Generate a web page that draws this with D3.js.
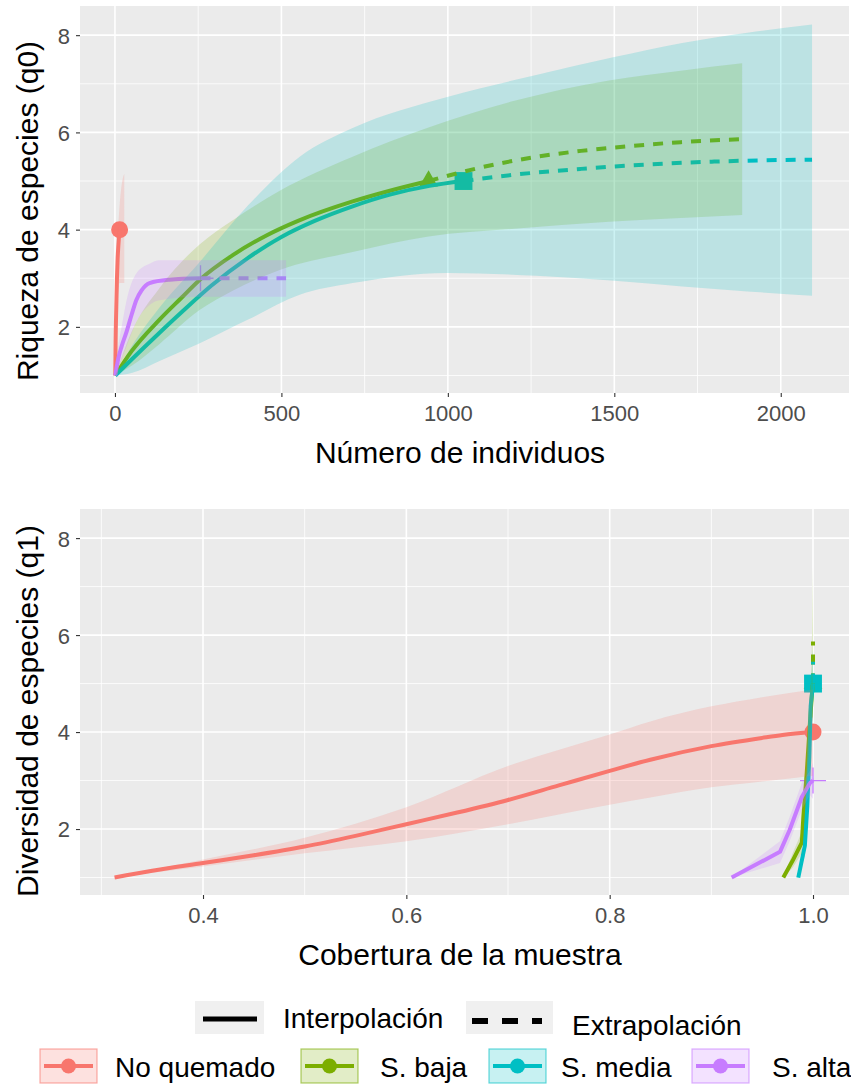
<!DOCTYPE html>
<html>
<head>
<meta charset="utf-8">
<script src="https://cdn.jsdelivr.net/npm/d3@7.9.0/dist/d3.min.js"></script>
<style>
  body { margin: 0; background: #fff; }
  svg { display: block; font-family: "Liberation Sans", Arial, sans-serif; }
</style>
</head>
<body>
<svg id="chart" width="851" height="1088"></svg>
<script>
// ---- data ----
const groups = ['No quemado', 'S. baja', 'S. media', 'S. alta'];
const colors = ['#F8766D', '#7CAE00', '#00BFC4', '#C77CFF'];
const shapes = ['circle', 'triangle', 'square', 'plus'];

const sizeTicks = [0, 500, 1000, 1500, 2000];
const sizeMinor = [250, 750, 1250, 1750];
const coverageTicks = [0.4, 0.6, 0.8, 1.0];
const coverageMinor = [0.3, 0.5, 0.7, 0.9];
const yTicks = [2, 4, 6, 8];
const yMinor = [1, 3, 5, 7];

// q0 by number of individuals: interpolation
const q0InterpM = [
  [1, 2, 4, 6, 8, 10, 12, 14],
  [1, 50, 134, 200, 255, 355, 455, 550, 714, 826, 942],
  [1, 50, 134, 200, 290, 400, 500, 600, 714, 826, 945, 1047],
  [1, 10, 20, 34, 50, 64, 80, 104, 164, 257]
];
const q0InterpD = [
  [1, 1.7, 2.4, 3.0, 3.4, 3.65, 3.85, 4.0],
  [1, 1.5, 2.15, 2.6, 2.97, 3.48, 3.88, 4.18, 4.58, 4.8, 5.0],
  [1, 1.33, 1.88, 2.3, 2.85, 3.42, 3.85, 4.18, 4.48, 4.72, 4.9, 5.0],
  [1, 1.35, 1.6, 1.88, 2.25, 2.55, 2.75, 2.9, 2.97, 3.0]
];
// q0 extrapolation
const q0ExtM = [
  [14, 18, 22, 28],
  [942, 1100, 1250, 1400, 1550, 1700, 1884],
  [1047, 1200, 1400, 1600, 1800, 2094],
  [257, 514]
];
const q0ExtD = [
  [4.0, 4.05, 4.08, 4.1],
  [5.0, 5.28, 5.48, 5.62, 5.72, 5.8, 5.86],
  [5.0, 5.13, 5.25, 5.34, 5.4, 5.44],
  [3.0, 3.0]
];
// q0 confidence bands
const q0BandM = [
  [1, 4, 8, 14, 18, 22, 28],
  [1, 50, 134, 255, 355, 495, 714, 942, 1200, 1484, 1700, 1884],
  [1, 50, 134, 250, 400, 555, 714, 998, 1265, 1500, 1704, 1900, 2094],
  [1, 10, 20, 35, 64, 104, 134, 257, 514]
];
const q0BandLo = [
  [1, 1.8, 2.5, 2.9, 2.9, 2.9, 2.9],
  [1, 1.2, 1.65, 2.35, 2.75, 3.17, 3.54, 3.86, 4.02, 4.16, 4.24, 4.3],
  [1, 1.05, 1.3, 1.65, 2.15, 2.66, 2.9, 3.11, 3.05, 2.95, 2.83, 2.73, 2.64],
  [1, 1.15, 1.35, 1.6, 2.1, 2.45, 2.55, 2.62, 2.62]
];
const q0BandHi = [
  [1, 2.6, 3.7, 4.5, 4.8, 5.0, 5.15],
  [1, 1.9, 2.8, 3.7, 4.2, 4.8, 5.5, 6.1, 6.65, 7.07, 7.27, 7.42],
  [1, 1.6, 2.4, 3.3, 4.5, 5.5, 6.09, 6.73, 7.18, 7.55, 7.84, 8.05, 8.22],
  [1, 1.6, 2.0, 2.55, 3.1, 3.3, 3.37, 3.37, 3.37]
];

// q1 by sample coverage: interpolation
const q1InterpC = [
  [0.313, 0.35, 0.4, 0.45, 0.5, 0.55, 0.6, 0.65, 0.7, 0.75, 0.8, 0.84, 0.9, 0.95, 0.97, 1.0],
  [0.9708, 0.98, 0.989, 0.9905, 0.9938, 0.997, 0.9992, 1.0],
  [0.9855, 0.992, 0.9944, 0.9964, 0.9977, 1.0],
  [0.92, 0.9675, 0.977, 0.989, 0.997, 1.0]
];
const q1InterpD = [
  [1.0, 1.14, 1.3, 1.46, 1.64, 1.86, 2.1, 2.34, 2.6, 2.9, 3.2, 3.43, 3.71, 3.88, 3.94, 4.0],
  [1, 1.35, 1.72, 2.25, 3.16, 4.2, 4.85, 5.0],
  [1, 1.66, 2.48, 3.5, 4.54, 5.0],
  [1.0, 1.53, 1.98, 2.66, 2.95, 3.0]
];
// q1 extrapolation
const q1ExtC = [
  [1.0, 1.0],
  [1.0, 1.0],
  [1.0, 1.0],
  [1.0, 1.0]
];
const q1ExtD = [
  [4.0, 4.0],
  [5.0, 5.87],
  [5.0, 5.45],
  [3.0, 3.0]
];
// q1 confidence bands
const q1BandC = [
  [0.313, 0.4, 0.5, 0.6, 0.7, 0.8, 0.84, 0.9, 0.95, 1.0],
  [0.9708, 0.98, 0.989, 0.9905, 0.9938, 0.997, 0.9985, 0.9993, 1.0],
  [0.9855, 0.992, 0.9944, 0.9964, 0.9977, 0.9995, 1.0],
  [0.92, 0.9675, 0.977, 0.989, 0.997, 1.0]
];
const q1BandLo = [
  [1.0, 1.23, 1.5, 1.75, 2.1, 2.5, 2.65, 2.86, 2.98, 3.1],
  [1, 1.2, 1.5, 1.95, 2.8, 3.9, 4.3, 4.3, 4.3],
  [1, 1.45, 2.2, 3.2, 4.2, 4.6, 4.6],
  [1, 1.3, 1.75, 2.4, 2.7, 2.62]
];
const q1BandHi = [
  [1.0, 1.37, 1.82, 2.45, 3.3, 3.95, 4.22, 4.53, 4.72, 4.88],
  [1, 1.5, 1.95, 2.55, 3.5, 4.6, 5.4, 6.4, 7.42],
  [1, 1.85, 2.75, 3.8, 4.85, 5.6, 5.7],
  [1, 1.75, 2.25, 2.95, 3.2, 3.37]
];

// ---- drawing ----
const svg = d3.select('#chart');
const tickColor = '#4D4D4D';

function zip(xs, ys) {
  return xs.map((x, i) => [x, ys[i]]);
}

function drawPanel(opt) {
  const x = d3.scaleLinear().domain(opt.xDomain).range([80, 849]);
  const y = d3.scaleLinear().domain([0.64, 8.6]).range([opt.bottom, opt.top]);
  const g = svg.append('g');

  g.append('rect')
    .attr('x', 80).attr('y', opt.top)
    .attr('width', 769).attr('height', opt.bottom - opt.top)
    .attr('fill', '#EBEBEB');

  // grid
  opt.xMinor.forEach((v) => {
    g.append('line').attr('x1', x(v)).attr('x2', x(v))
      .attr('y1', opt.top).attr('y2', opt.bottom)
      .attr('stroke', '#fff').attr('stroke-width', 0.8);
  });
  yMinor.forEach((v) => {
    g.append('line').attr('x1', 80).attr('x2', 849)
      .attr('y1', y(v)).attr('y2', y(v))
      .attr('stroke', '#fff').attr('stroke-width', 0.8);
  });
  opt.xTicks.forEach((v) => {
    g.append('line').attr('x1', x(v)).attr('x2', x(v))
      .attr('y1', opt.top).attr('y2', opt.bottom)
      .attr('stroke', '#fff').attr('stroke-width', 1.6);
  });
  yTicks.forEach((v) => {
    g.append('line').attr('x1', 80).attr('x2', 849)
      .attr('y1', y(v)).attr('y2', y(v))
      .attr('stroke', '#fff').attr('stroke-width', 1.6);
  });

  const clip = 'clip' + opt.id;
  svg.append('clipPath').attr('id', clip).append('rect')
    .attr('x', 80).attr('y', opt.top)
    .attr('width', 769).attr('height', opt.bottom - opt.top);
  const plot = g.append('g').attr('clip-path', `url(#${clip})`);

  const lineFor = (i) => d3.line().x((d) => x(d[0])).y((d) => y(d[1])).curve(opt.curves[i]);

  // observed points
  groups.forEach((name, i) => {
    const last = opt.interpX[i].length - 1;
    const px = x(opt.interpX[i][last]);
    const py = y(opt.interpY[i][last]);
    if (shapes[i] === 'plus') {
      plot.append('path')
        .attr('d', `M${px - 13},${py}H${px + 13}M${px},${py - 13}V${py + 13}`)
        .attr('stroke', colors[i]).attr('stroke-width', 1.3).attr('fill', 'none');
    } else {
      const type = { circle: d3.symbolCircle, triangle: d3.symbolTriangle, square: d3.symbolSquare }[shapes[i]];
      const size = { circle: 227, triangle: 150, square: 320 }[shapes[i]];
      plot.append('path')
        .attr('transform', `translate(${px},${py})`)
        .attr('d', d3.symbol().type(type).size(size)())
        .attr('fill', colors[i]);
    }
  });

  // lines
  groups.forEach((name, i) => {
    const line = lineFor(i);
    plot.append('path')
      .attr('d', line(zip(opt.interpX[i], opt.interpY[i])))
      .attr('fill', 'none').attr('stroke', colors[i])
      .attr('stroke-width', 4).attr('stroke-linejoin', 'round');
    plot.append('path')
      .attr('d', line(zip(opt.extX[i], opt.extY[i])))
      .attr('fill', 'none').attr('stroke', colors[i])
      .attr('stroke-width', 4).attr('stroke-dasharray', '10,9');
  });

  // confidence bands on top
  groups.forEach((name, i) => {
    const area = d3.area()
      .x((d) => x(d[0])).y0((d) => y(d[1])).y1((d) => y(d[2]))
      .curve(opt.curves[i]);
    const pts = opt.bandX[i].map((v, j) => [v, opt.bandLo[i][j], opt.bandHi[i][j]]);
    plot.append('path')
      .attr('d', area(pts))
      .attr('fill', colors[i]).attr('fill-opacity', 0.2);
  });

  // axes
  const xAxis = d3.axisBottom(x).tickValues(opt.xTicks).tickFormat(opt.xFormat)
    .tickSize(4).tickPadding(6);
  const ax = g.append('g').attr('transform', `translate(0,${opt.bottom})`).call(xAxis);
  const yAxis = d3.axisLeft(y).tickValues(yTicks).tickFormat(d3.format('d'))
    .tickSize(4).tickPadding(6);
  const ay = g.append('g').attr('transform', 'translate(80,0)').call(yAxis);
  [ax, ay].forEach((a) => {
    a.select('.domain').remove();
    a.selectAll('.tick line').attr('stroke', '#333').attr('stroke-width', 1.1);
    a.selectAll('.tick text')
      .attr('fill', tickColor)
      .style('font-size', '22px')
      .style('font-family', '"Liberation Sans", Arial, sans-serif');
  });
  ax.selectAll('.tick text').attr('dy', null).attr('y', 28);
  ay.selectAll('.tick text').attr('dy', '0.36em');

  g.append('text')
    .attr('x', 460).attr('y', opt.bottom + 70)
    .attr('text-anchor', 'middle')
    .style('font-size', '30px').attr('fill', '#000')
    .text(opt.xTitle);
  g.append('text')
    .attr('transform', `translate(38,${opt.yTitleY}) rotate(-90)`)
    .attr('text-anchor', 'middle')
    .style('font-size', '30px').attr('fill', '#000')
    .text(opt.yTitle);
}

const smooth = d3.curveMonotoneX;
drawPanel({
  id: 'top', top: 6, bottom: 393,
  xDomain: [-105, 2205], xTicks: sizeTicks, xMinor: sizeMinor,
  xFormat: d3.format('d'), curves: [smooth, smooth, smooth, smooth],
  interpX: q0InterpM, interpY: q0InterpD,
  extX: q0ExtM, extY: q0ExtD,
  bandX: q0BandM, bandLo: q0BandLo, bandHi: q0BandHi,
  xTitle: 'Número de individuos', yTitle: 'Riqueza de especies (q0)', yTitleY: 211
});

drawPanel({
  id: 'bottom', top: 509, bottom: 895,
  xDomain: [0.279, 1.0354], xTicks: coverageTicks, xMinor: coverageMinor,
  xFormat: d3.format('.1f'), curves: [smooth, d3.curveLinear, d3.curveLinear, d3.curveLinear],
  interpX: q1InterpC, interpY: q1InterpD,
  extX: q1ExtC, extY: q1ExtD,
  bandX: q1BandC, bandLo: q1BandLo, bandHi: q1BandHi,
  xTitle: 'Cobertura de la muestra', yTitle: 'Diversidad de especies (q1)', yTitleY: 711
});

// ---- legend ----
const legend = svg.append('g').style('font-size', '28px');

// linetype keys
legend.append('rect').attr('x', 195).attr('y', 1001).attr('width', 69).attr('height', 33).attr('fill', '#F0F0F0');
legend.append('line').attr('x1', 203).attr('x2', 257).attr('y1', 1019).attr('y2', 1019)
  .attr('stroke', '#000').attr('stroke-width', 5);
legend.append('text').attr('x', 283).attr('y', 1028).text('Interpolación');

legend.append('rect').attr('x', 466).attr('y', 1001).attr('width', 87).attr('height', 33).attr('fill', '#F0F0F0');
legend.append('line').attr('x1', 472).attr('x2', 542).attr('y1', 1021).attr('y2', 1021)
  .attr('stroke', '#000').attr('stroke-width', 6).attr('stroke-dasharray', '16,14');
legend.append('text').attr('x', 572).attr('y', 1035).text('Extrapolación');

// group keys
const keyX = [40, 301, 489, 692];
const labelX = [115, 380, 561, 772];
groups.forEach((name, i) => {
  const k = legend.append('g').attr('transform', `translate(${keyX[i]},1049)`);
  k.append('rect').attr('width', 57).attr('height', 34)
    .attr('fill', colors[i]).attr('fill-opacity', 0.22)
    .attr('stroke', colors[i]).attr('stroke-opacity', 0.6).attr('stroke-width', 1.2);
  k.append('line').attr('x1', 4).attr('x2', 53).attr('y1', 17).attr('y2', 17)
    .attr('stroke', colors[i]).attr('stroke-width', 4);
  k.append('circle').attr('cx', 28.5).attr('cy', 17).attr('r', 7.5).attr('fill', colors[i]);
  legend.append('text').attr('x', labelX[i]).attr('y', 1077).text(name);
});
</script>
</body>
</html>
